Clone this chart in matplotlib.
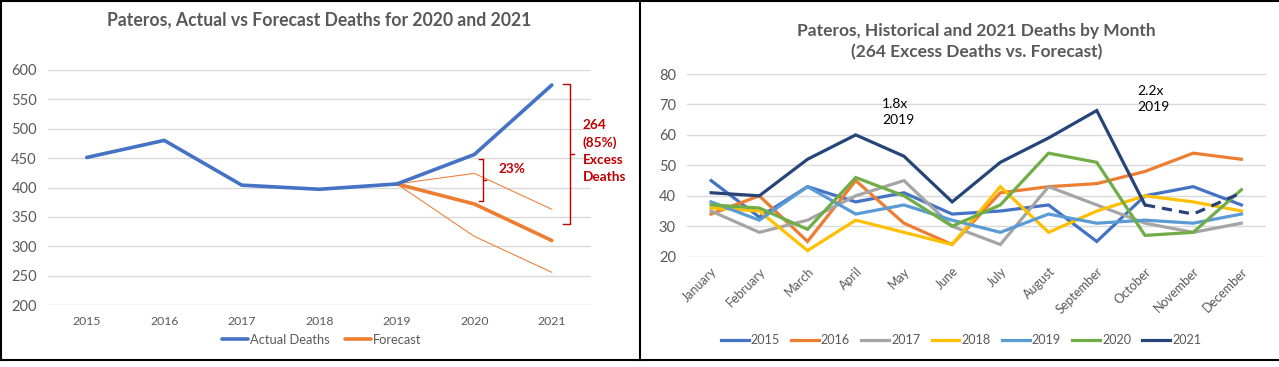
import matplotlib
matplotlib.use("Agg")
import matplotlib.pyplot as plt
from matplotlib.lines import Line2D

plt.rcParams['font.family'] = ['Lato', 'DejaVu Sans']

# ---------------- data ----------------
years = [2015, 2016, 2017, 2018, 2019, 2020, 2021]
actual_deaths = [451, 480, 404, 397, 406, 456, 574]
forecast_years = [2019, 2020, 2021]
forecast = [406, 372, 310]
forecast_upper = [406, 424, 363]
forecast_lower = [406, 317, 256]

months = ["January", "February", "March", "April", "May", "June", "July",
          "August", "September", "October", "November", "December"]
d2015 = [45, 33, 43, 38, 41, 34, 35, 37, 25, 40, 43, 37]
d2016 = [34, 40, 25, 45, 31, 24, 41, 43, 44, 48, 54, 52]
d2017 = [35, 28, 32, 40, 45, 30, 24, 43, 37, 31, 28, 31]
d2018 = [36, 35, 22, 32, 28, 24, 43, 28, 35, 40, 38, 35]
d2019 = [38, 32, 43, 34, 37, 32, 28, 34, 31, 32, 31, 34]
d2020 = [37, 36, 29, 46, 40, 30, 37, 54, 51, 27, 28, 42]
d2021 = [41, 40, 52, 60, 53, 38, 51, 59, 68, 37, 34, 41]
series_labels = ["2015", "2016", "2017", "2018", "2019", "2020", "2021"]
series_colors = ["#4472C4", "#ED7D31", "#A5A5A5", "#FFC000", "#5B9BD5", "#70AD47", "#264478"]

GRAY = "#595959"
GRID = "#D9D9D9"
RED = "#C00000"

W, H = 1279, 367
fig = plt.figure(figsize=(W / 100, H / 100), dpi=100)

def fx(px):
    return px / W

def fy(py):
    return 1 - py / H

# ---------------- borders ----------------
for (x0, y0, x1, y1) in [(0, 0.7, W, 0.7), (0.8, 0, 0.8, 359.5), (639.5, 0, 639.5, 359.5), (0, 359.5, W, 359.5)]:
    fig.add_artist(Line2D([fx(x0), fx(x1)], [fy(y0), fy(y1)], color="black", lw=1.5))

# ---------------- left chart ----------------
ax1 = fig.add_axes([fx(48), fy(305.3), fx(590.6) - fx(48), fy(69.7) - fy(305.3)])
ax1.set_xlim(2014.5, 2021.5)
ax1.set_ylim(200, 600)
ax1.set_yticks(range(200, 601, 50))
ax1.set_xticks(years)
ax1.grid(axis="y", color=GRID, lw=1)
ax1.set_axisbelow(True)
for s in ax1.spines.values():
    s.set_visible(False)
ax1.tick_params(length=0)
ax1.tick_params(axis="y", labelsize=10.5, labelcolor=GRAY, pad=8)
ax1.tick_params(axis="x", labelsize=8.8, labelcolor=GRAY, pad=8)

ax1.plot(forecast_years, forecast_upper, color="#ED7D31", lw=0.75, solid_capstyle="round")
ax1.plot(forecast_years, forecast_lower, color="#ED7D31", lw=0.75, solid_capstyle="round")
ax1.plot(forecast_years, forecast, color="#ED7D31", lw=2.6, solid_capstyle="round", label="Forecast", zorder=3)
ax1.plot(years, actual_deaths, color="#4472C4", lw=2.6, solid_capstyle="round", label="Actual Deaths", zorder=4)

ax1.set_title("Pateros, Actual vs Forecast Deaths for 2020 and 2021", fontsize=12.7,
              fontweight="bold", color=GRAY, y=1.0, pad=32)

# brackets (annotation shapes)
def bracket(ax, x, y_lo, y_hi, tick_left, tick_mid):
    y_mid = (y_lo + y_hi) / 2
    ax.plot([x - tick_left, x, x, x - tick_left], [y_hi, y_hi, y_lo, y_lo], color=RED, lw=1, clip_on=False)
    ax.plot([x, x + tick_mid], [y_mid, y_mid], color=RED, lw=1, clip_on=False)

bracket(ax1, 2020.11, 377, 448, 0.045, 0.04)
bracket(ax1, 2021.23, 338, 576, 0.09, 0.05)
ax1.text(2020.31, 431, "23%", color=RED, fontsize=9.8, fontweight="bold", va="center", ha="left")
ax1.text(2021.40, 517, "264\n(85%)\nExcess\nDeaths", color=RED, fontsize=9.8, fontweight="bold",
         va="top", ha="left", linespacing=1.5, clip_on=False)

h, l = ax1.get_legend_handles_labels()
fig.legend([h[1], h[0]], [l[1], l[0]], loc="center", bbox_to_anchor=(fx(322), fy(340)), ncol=2,
           frameon=False, fontsize=9.3, handlelength=2.0, handletextpad=0.15, columnspacing=1.2,
           labelcolor=GRAY)

# ---------------- right chart ----------------
ax2 = fig.add_axes([fx(687), fy(256.7), fx(1265.5) - fx(687), fy(74) - fy(256.7)])
x = list(range(len(months)))
ax2.set_xlim(-0.5, 11.5)
ax2.set_ylim(20, 80)
ax2.set_yticks(range(20, 81, 10))
ax2.set_xticks(x)
ax2.set_xticklabels(months, rotation=45, ha="right", va="top", rotation_mode="anchor")
ax2.grid(axis="y", color=GRID, lw=1)
ax2.set_axisbelow(True)
for s in ax2.spines.values():
    s.set_visible(False)
ax2.tick_params(length=0)
ax2.tick_params(axis="y", labelsize=10.5, labelcolor=GRAY, pad=8)
ax2.tick_params(axis="x", labelsize=9, labelcolor=GRAY, pad=6)

all_series = [d2015, d2016, d2017, d2018, d2019, d2020]
handles = []
for vals, lab, col in zip(all_series, series_labels[:-1], series_colors[:-1]):
    ln, = ax2.plot(x, vals, color=col, lw=2.3, label=lab, solid_joinstyle="miter")
    handles.append(ln)
ln21, = ax2.plot(x[:10], d2021[:10], color=series_colors[-1], lw=2.3, label="2021", solid_joinstyle="miter")
ax2.plot(x[9:], d2021[9:], color=series_colors[-1], lw=2.3, linestyle=(0, (3.2, 2.2)))
handles.append(ln21)

ax2.set_title("Pateros, Historical and 2021 Deaths by Month\n(264 Excess Deaths vs. Forecast)",
              fontsize=12.5, fontweight="bold", color=GRAY, linespacing=1.4, pad=12)

ax2.text(3.55, 72.2, "1.8x\n2019", fontsize=10, color="black", va="top", ha="left", linespacing=1.45)
ax2.text(8.85, 76.4, "2.2x\n2019", fontsize=10, color="black", va="top", ha="left", linespacing=1.45)

fig.legend(handles, series_labels, loc="center", bbox_to_anchor=(fx(961), fy(340)), ncol=7,
           frameon=False, fontsize=9.1, handlelength=2.2, handletextpad=0.15, columnspacing=0.9,
           labelcolor=GRAY)

fig.savefig("out.png", dpi=100, facecolor="white")
